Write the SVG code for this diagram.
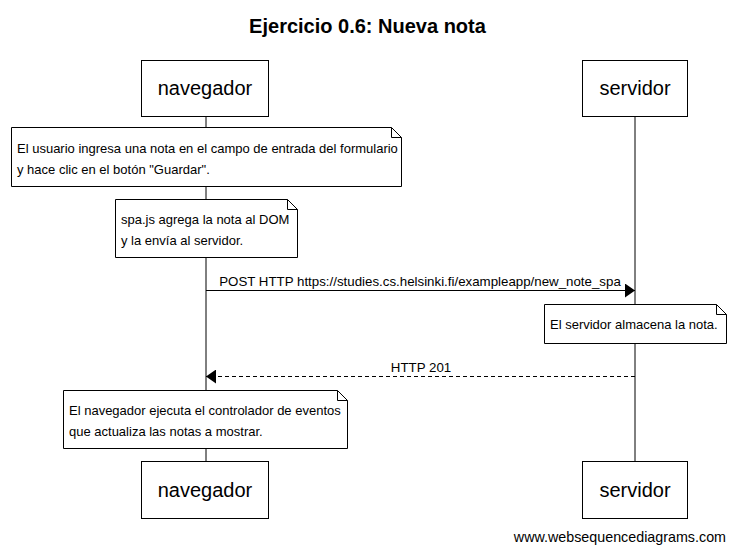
<svg xmlns="http://www.w3.org/2000/svg" width="735" height="552" viewBox="0 0 735 552">
<style>
.box{fill:#fff;stroke:#000;stroke-width:1}
.life{stroke:#000;stroke-width:1}
.pt{font-family:"Liberation Sans",Arial,sans-serif;font-size:20px;text-anchor:middle}
.nt{font-family:"Liberation Sans",Arial,sans-serif;font-size:13px}
.lbl{font-family:"Liberation Sans",Arial,sans-serif;font-size:13.3px;text-anchor:middle}
.msg{stroke:#000;stroke-width:1;fill:none}
</style>
<defs>
<marker id="ah" markerWidth="10" markerHeight="14" refX="10" refY="7" orient="auto" markerUnits="userSpaceOnUse">
<path d="M0,0 L10,7 L0,14 Z" fill="#000"/>
</marker>
</defs>
<rect width="735" height="552" fill="#fff"/>
<text x="367.5" y="33" font-family="'Liberation Sans',Arial,sans-serif" font-size="20" font-weight="bold" text-anchor="middle">Ejercicio 0.6: Nueva nota</text>
<g id="lifelines">
<line class="life" x1="206" y1="116" x2="206" y2="461"/>
<line class="life" x1="635" y1="116" x2="635" y2="461"/>
</g>
<g id="navegador">
<rect class="box" x="141.5" y="60.5" width="127" height="56"/>
<text class="pt" x="205" y="95">navegador</text>
</g>
<g id="servidor">
<rect class="box" x="582.5" y="60.5" width="105" height="56"/>
<text class="pt" x="635" y="95">servidor</text>
</g>
<g id="navegador-bottom">
<rect class="box" x="141.5" y="461.5" width="127" height="57"/>
<text class="pt" x="205" y="497">navegador</text>
</g>
<g id="servidor-bottom">
<rect class="box" x="582.5" y="461.5" width="105" height="57"/>
<text class="pt" x="635" y="497">servidor</text>
</g>
<g id="note1">
<path class="box" d="M11.5,127.5 H391.5 L401.5,137.5 V186.5 H11.5 Z"/>
<path class="msg" d="M391.5,127.5 V137.5 H401.5"/>
<text class="nt" x="17" y="153">El usuario ingresa una nota en el campo de entrada del formulario</text>
<text class="nt" x="17" y="174">y hace clic en el botón "Guardar".</text>
</g>
<g id="note2">
<path class="box" d="M115.5,199.5 H287.5 L297.5,209.5 V257.5 H115.5 Z"/>
<path class="msg" d="M287.5,199.5 V209.5 H297.5"/>
<text class="nt" x="121" y="224">spa.js agrega la nota al DOM</text>
<text class="nt" x="121" y="245">y la envía al servidor.</text>
</g>
<g id="note3">
<path class="box" d="M544.5,304.5 H716.5 L726.5,314.5 V343.5 H544.5 Z"/>
<path class="msg" d="M716.5,304.5 V314.5 H726.5"/>
<text class="nt" x="550" y="329">El servidor almacena la nota.</text>
</g>
<g id="note4">
<path class="box" d="M63.5,390.5 H337.5 L347.5,400.5 V448.5 H63.5 Z"/>
<path class="msg" d="M337.5,390.5 V400.5 H347.5"/>
<text class="nt" x="69" y="415">El navegador ejecuta el controlador de eventos</text>
<text class="nt" x="69" y="436">que actualiza las notas a mostrar.</text>
</g>
<g id="connectors">
<line class="msg" x1="206" y1="290.5" x2="635" y2="290.5" marker-end="url(#ah)"/>
<text class="lbl" x="420" y="286">POST HTTP https://studies.cs.helsinki.fi/exampleapp/new_note_spa</text>
<line class="msg" x1="635" y1="376.5" x2="206" y2="376.5" stroke-dasharray="4,3" marker-end="url(#ah)"/>
<text class="lbl" x="421" y="372">HTTP 201</text>
</g>
<text x="726" y="542" font-family="'Liberation Sans',Arial,sans-serif" font-size="14.3" text-anchor="end">www.websequencediagrams.com</text>
</svg>
